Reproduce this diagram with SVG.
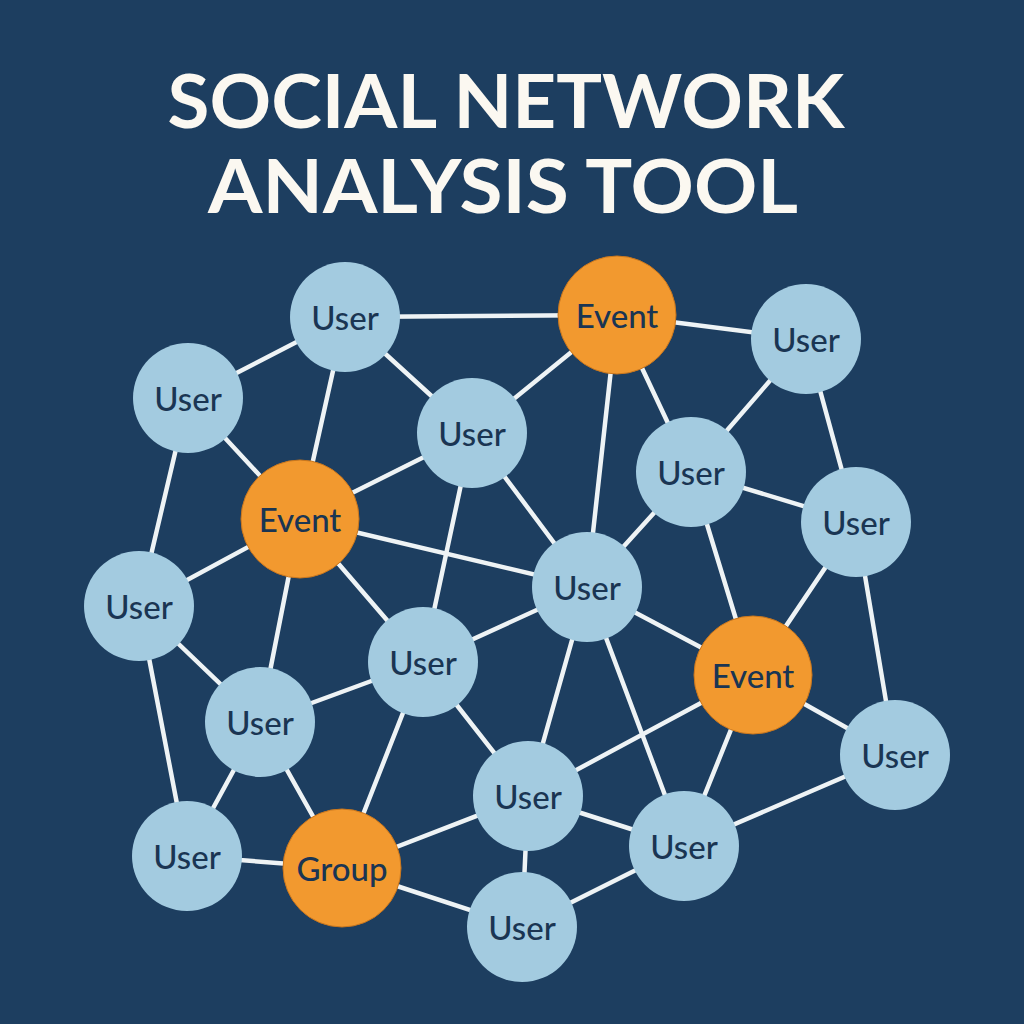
<svg xmlns="http://www.w3.org/2000/svg" width="1024" height="1024" viewBox="0 0 1024 1024">
<style>
.bg{fill:#1d3e60}
.title{font-family:Lato,"Liberation Sans",sans-serif;font-weight:700;font-size:74px;fill:#fbf8f1;text-anchor:middle}
.edges line{stroke:#eef3f5;stroke-width:4.5;stroke-linecap:round}
.user circle{fill:#a3cbe0}
.hub circle{fill:#f2992f;stroke:#c9761d;stroke-width:1}
.lbl{font-family:Lato,"Liberation Sans",sans-serif;font-weight:500;font-size:33px;fill:#1a3553;text-anchor:middle}
</style>
<rect class="bg" x="0" y="0" width="1024" height="1024"/>
<text class="title" x="506" y="128" textLength="677" lengthAdjust="spacingAndGlyphs">SOCIAL NETWORK</text>
<text class="title" x="503" y="213" textLength="590" lengthAdjust="spacingAndGlyphs">ANALYSIS TOOL</text>
<g id="connectors" class="edges">
<line x1="345" y1="317" x2="617" y2="315"/>
<line x1="345" y1="317" x2="188" y2="398"/>
<line x1="345" y1="317" x2="472" y2="433"/>
<line x1="345" y1="317" x2="300" y2="519"/>
<line x1="617" y1="315" x2="806" y2="339"/>
<line x1="617" y1="315" x2="472" y2="433"/>
<line x1="617" y1="315" x2="691" y2="472"/>
<line x1="617" y1="315" x2="587" y2="587"/>
<line x1="806" y1="339" x2="691" y2="472"/>
<line x1="806" y1="339" x2="856" y2="522"/>
<line x1="188" y1="398" x2="300" y2="519"/>
<line x1="188" y1="398" x2="139" y2="606"/>
<line x1="472" y1="433" x2="300" y2="519"/>
<line x1="472" y1="433" x2="423" y2="662"/>
<line x1="472" y1="433" x2="587" y2="587"/>
<line x1="691" y1="472" x2="856" y2="522"/>
<line x1="691" y1="472" x2="587" y2="587"/>
<line x1="691" y1="472" x2="753" y2="675"/>
<line x1="300" y1="519" x2="139" y2="606"/>
<line x1="300" y1="519" x2="587" y2="587"/>
<line x1="300" y1="519" x2="423" y2="662"/>
<line x1="300" y1="519" x2="260" y2="722"/>
<line x1="856" y1="522" x2="753" y2="675"/>
<line x1="856" y1="522" x2="895" y2="755"/>
<line x1="139" y1="606" x2="260" y2="722"/>
<line x1="139" y1="606" x2="187" y2="856"/>
<line x1="587" y1="587" x2="423" y2="662"/>
<line x1="587" y1="587" x2="753" y2="675"/>
<line x1="587" y1="587" x2="528" y2="796"/>
<line x1="587" y1="587" x2="684" y2="846"/>
<line x1="423" y1="662" x2="260" y2="722"/>
<line x1="423" y1="662" x2="342" y2="868"/>
<line x1="423" y1="662" x2="528" y2="796"/>
<line x1="753" y1="675" x2="895" y2="755"/>
<line x1="753" y1="675" x2="528" y2="796"/>
<line x1="753" y1="675" x2="684" y2="846"/>
<line x1="260" y1="722" x2="187" y2="856"/>
<line x1="260" y1="722" x2="342" y2="868"/>
<line x1="895" y1="755" x2="684" y2="846"/>
<line x1="528" y1="796" x2="342" y2="868"/>
<line x1="528" y1="796" x2="684" y2="846"/>
<line x1="528" y1="796" x2="522" y2="927"/>
<line x1="187" y1="856" x2="342" y2="868"/>
<line x1="342" y1="868" x2="522" y2="927"/>
<line x1="684" y1="846" x2="522" y2="927"/>
</g>
<g id="n1" class="user"><circle cx="345" cy="317" r="55"/><text class="lbl" x="345" y="330">User</text></g>
<g id="n2" class="hub"><circle cx="617" cy="315" r="59"/><text class="lbl" x="617" y="328">Event</text></g>
<g id="n3" class="user"><circle cx="806" cy="339" r="55"/><text class="lbl" x="806" y="352">User</text></g>
<g id="n4" class="user"><circle cx="188" cy="398" r="55"/><text class="lbl" x="188" y="411">User</text></g>
<g id="n5" class="user"><circle cx="472" cy="433" r="55"/><text class="lbl" x="472" y="446">User</text></g>
<g id="n6" class="user"><circle cx="691" cy="472" r="55"/><text class="lbl" x="691" y="485">User</text></g>
<g id="n7" class="hub"><circle cx="300" cy="519" r="59"/><text class="lbl" x="300" y="532">Event</text></g>
<g id="n8" class="user"><circle cx="856" cy="522" r="55"/><text class="lbl" x="856" y="535">User</text></g>
<g id="n9" class="user"><circle cx="139" cy="606" r="55"/><text class="lbl" x="139" y="619">User</text></g>
<g id="n10" class="user"><circle cx="587" cy="587" r="55"/><text class="lbl" x="587" y="600">User</text></g>
<g id="n11" class="user"><circle cx="423" cy="662" r="55"/><text class="lbl" x="423" y="675">User</text></g>
<g id="n12" class="hub"><circle cx="753" cy="675" r="59"/><text class="lbl" x="753" y="688">Event</text></g>
<g id="n13" class="user"><circle cx="260" cy="722" r="55"/><text class="lbl" x="260" y="735">User</text></g>
<g id="n14" class="user"><circle cx="895" cy="755" r="55"/><text class="lbl" x="895" y="768">User</text></g>
<g id="n15" class="user"><circle cx="528" cy="796" r="55"/><text class="lbl" x="528" y="809">User</text></g>
<g id="n16" class="user"><circle cx="187" cy="856" r="55"/><text class="lbl" x="187" y="869">User</text></g>
<g id="n17" class="hub"><circle cx="342" cy="868" r="59"/><text class="lbl" x="342" y="881">Group</text></g>
<g id="n18" class="user"><circle cx="684" cy="846" r="55"/><text class="lbl" x="684" y="859">User</text></g>
<g id="n19" class="user"><circle cx="522" cy="927" r="55"/><text class="lbl" x="522" y="940">User</text></g>
</svg>
